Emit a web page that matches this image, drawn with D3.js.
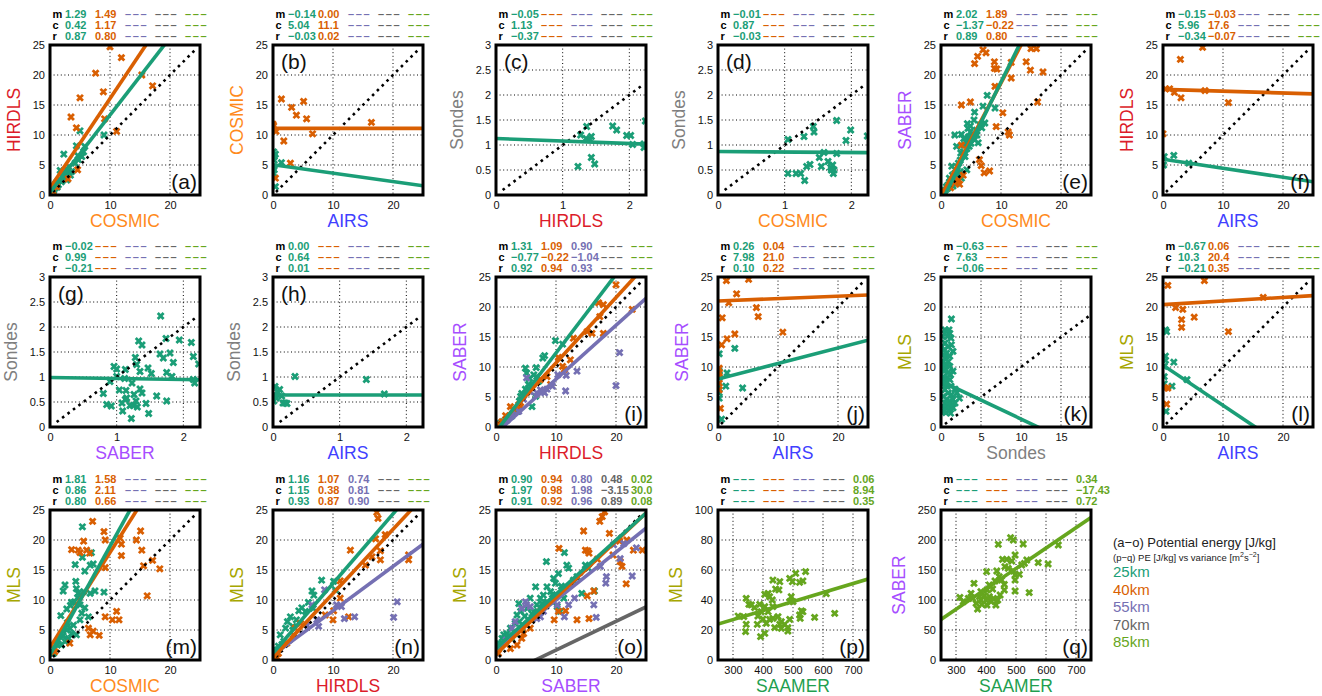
<!DOCTYPE html>
<html><head><meta charset="utf-8">
<script src="https://cdn.jsdelivr.net/npm/d3@7"></script>
<style>
body{margin:0;background:#fff;}
svg{display:block;font-family:"Liberation Sans",Arial,Helvetica,sans-serif;}
</style></head><body>
<svg id="chart" width="1322" height="696"></svg>
<script>
// ---------- series / instruments ----------
const seriesNames = ["25km","40km","55km","70km","85km"];
const seriesColors = ["#1b9e77","#d95f02","#7570b3","#666666","#66a61e"];
const instColors = {COSMIC:"#ff8a1c", HIRDLS:"#dc1c2a", AIRS:"#4040ff", Sondes:"#7f7f7f", SABER:"#a64dff", MLS:"#a6a600", SAAMER:"#1f9f50"};

// ---------- tick labels ----------
const ticksPEx = [0,10,20], ticksPEy = [0,5,10,15,20,25];
const ticksSx = [0,1,2], ticksSy = [0,0.5,1,1.5,2,2.5,3];
const ticksKx = [0,5,10,15];
const ticksVx = [300,400,500,600,700];
const ticksVMy = [0,20,40,60,80,100];
const ticksVSy = [0,50,100,150,200,250];

// ---------- fit statistics (rows m, c, r; columns 25,40,55,70,85 km) ----------
const statsA = [["1.29","1.49","","",""],["0.42","1.17","","",""],["0.87","0.80","","",""]];
const statsB = [["-0.14","0.00","","",""],["5.04","11.1","","",""],["-0.03","0.02","","",""]];
const statsC = [["-0.05","","","",""],["1.13","","","",""],["-0.37","","","",""]];
const statsD = [["-0.01","","","",""],["0.87","","","",""],["-0.03","","","",""]];
const statsE = [["2.02","1.89","","",""],["-1.37","-0.22","","",""],["0.89","0.80","","",""]];
const statsF = [["-0.15","-0.03","","",""],["5.96","17.6","","",""],["-0.34","-0.07","","",""]];
const statsG = [["-0.02","","","",""],["0.99","","","",""],["-0.21","","","",""]];
const statsH = [["0.00","","","",""],["0.64","","","",""],["0.01","","","",""]];
const statsI = [["1.31","1.09","0.90","",""],["-0.77","-0.22","-1.04","",""],["0.92","0.94","0.93","",""]];
const statsJ = [["0.26","0.04","","",""],["7.98","21.0","","",""],["0.10","0.22","","",""]];
const statsK = [["-0.63","","","",""],["7.63","","","",""],["-0.06","","","",""]];
const statsL = [["-0.67","0.06","","",""],["10.3","20.4","","",""],["-0.21","0.35","","",""]];
const statsM = [["1.81","1.58","","",""],["0.86","2.11","","",""],["0.80","0.66","","",""]];
const statsN = [["1.16","1.07","0.74","",""],["1.15","0.38","0.81","",""],["0.93","0.87","0.90","",""]];
const statsO = [["0.90","0.94","0.80","0.48","0.02"],["1.97","0.98","1.98","-3.15","30.0"],["0.91","0.92","0.96","0.89","0.08"]];
const statsP = [["","","","","0.06"],["","","","","8.94"],["","","","","0.35"]];
const statsQ = [["","","","","0.34"],["","","","","-17.43"],["","","","","0.72"]];

// ---------- scatter points [x, y] ----------
const a25 = [[2.3,6.8],[5,10.7],[9,10],[4.4,8.2],[5.8,8.1],[4.7,6.5],[3.1,4.7],[1.7,4.1],[2.5,3.1],[3.6,3.9],[4.2,5.3],[5.3,6.4],[0.8,1.1],[1.4,1.7],[1.9,2.2],[0.6,0.7],[2.8,2.5],[3.4,3.3],[1.1,2.1],[5.6,7.2],[4.7,5.9],[2.1,3.6],[1.2,1.3],[1.6,2.6],[2.4,2.9],[3,3.6],[0.9,1.8],[2.7,4.3]];
const a40 = [[10,24.7],[11.9,22.9],[7.6,20.3],[15.3,20],[8.9,17.2],[17.1,18.2],[5,16.2],[3.5,13],[4.4,11.2],[11.1,10.6],[9.1,12.7],[4.6,4.2],[3,2.7],[0.5,0.6],[1.1,1.4]];
const b25 = [[0.1,7.2],[0.2,5.8],[0.1,4.7],[0.2,4.2],[0.4,6.8],[1.4,5.4],[0.4,1.4],[0.1,3.6],[0.2,6.4]];
const b40 = [[0,11.8],[0.5,10.6],[1.4,16],[1.8,9],[3.1,14.6],[3.9,13.3],[5.1,15.6],[5.6,12.7],[6.6,10.2],[16.4,12.1],[0.4,2.8],[2.9,5.3],[0.1,11.5]];
const c25 = [[1.27,1.2],[1.36,1.37],[1.35,1.13],[1.43,1.17],[1.41,1.11],[1.23,0.57],[1.43,0.75],[1.48,0.62],[1.75,1.38],[1.81,1.3],[1.96,1.19],[2.02,1.19],[2.05,1.01],[2.22,0.95],[2.24,1.48],[2.22,1.02]];
const d25 = [[1.05,1.11],[1.29,1.17],[1.43,1.37],[1.44,1.26],[1.78,1.49],[1.99,1.3],[1.92,1.09],[2.24,1.18],[1.05,0.43],[1.17,0.43],[1.24,0.43],[1.3,0.29],[1.33,0.57],[1.38,0.61],[1.52,0.75],[1.55,0.57],[1.59,0.85],[1.65,0.67],[1.69,0.55],[1.72,0.6],[1.73,0.43],[1.74,0.5],[1.78,0.83],[1.7,0.5]];
const e25 = [[7.7,16.6],[9,14.5],[5.6,13.8],[7,14.8],[2.3,10],[3.4,10.1],[4.4,11.9],[4.5,11.1],[5.5,12.5],[6.5,11.7],[7.3,12],[2.6,8.1],[3.7,7.2],[4.8,9.2],[5.6,9.2],[6.2,8.7],[4.7,8.1],[1.8,4.8],[2.7,4.7],[3.2,5.8],[4,6.4],[3.2,3.9],[4.3,4.2],[1.5,2.2],[2.1,2.8],[0.9,1.4],[0.7,0.8],[1.2,1.7],[2.6,1.9],[3.4,2.8],[2.3,3.6],[5.3,10.2],[4.9,10.5],[4.1,8.9],[3.3,7],[4.3,7.7],[5.9,10.8],[4.6,9.7],[5,8.6],[5.2,9.6],[3.9,8.3],[3.6,6.5],[2.9,5.3],[2.4,4.2],[1.9,3.3],[1.4,2.8],[1.1,1.1],[2.8,2.3],[2,1.5],[3,3.2],[6.8,11.2],[6,10],[4.9,11.5],[3.8,9.4]];
const e40 = [[7,24.2],[7.5,23.7],[6.1,23.1],[5.6,21.9],[8.9,22.2],[8.9,21.1],[9.3,21],[11.7,22.1],[14.2,22.2],[15,24.4],[15.9,24.4],[14.9,20.8],[17,20.5],[11.7,19.5],[9,18.1],[4.9,15.5],[3.4,15],[16.1,15.5],[10.3,13.7],[9.2,11.4],[11.2,10.5],[11.4,10],[6.4,5.9],[6.7,4.9],[7.2,3.7],[8.1,4],[3.4,8.3],[3.7,3.3],[0.4,0.6],[2.2,2.1],[2.9,2.5],[1.6,1.2],[3.1,1.8]];
const f25 = [[0.2,6.4],[0.1,5],[1.8,6.6],[4.3,5.3]];
const f40 = [[0,10.2],[0.4,17.7],[1.1,17.7],[1.9,17.1],[3,16.2],[2.9,22.6],[6.6,24.6],[7,17.4],[10.9,15.4]];
const g25 = [[1.66,2.22],[1.33,1.72],[1.38,1.64],[1.74,1.77],[1.94,1.74],[2.12,1.69],[1.65,1.46],[1.7,1.38],[1.8,1.48],[1.85,1.29],[2.15,1.41],[2.23,1.26],[1.28,1.39],[1.3,1.25],[0.96,1.21],[1,1.16],[1.13,1.15],[1.35,1.11],[1.47,1.18],[1.52,1.07],[1.75,1.09],[1.83,1.01],[2.15,0.95],[2.17,0.88],[0.9,0.91],[1.12,0.97],[1.14,0.73],[1.23,0.88],[1.35,0.76],[1.38,0.68],[0.8,0.67],[0.85,0.45],[0.92,0.42],[1.04,0.74],[1.08,0.48],[1.09,0.32],[1.13,0.55],[1.15,0.58],[1.2,0.43],[1.25,0.43],[1.29,0.52],[1.31,0.4],[1.44,0.47],[1.48,0.27],[1.6,0.62],[1.75,0.52],[1.22,0.17],[1.26,0.65],[1,1.01]];
const h25 = [[0.33,1.01],[1.4,0.95],[1.67,0.66],[0.03,0.81],[0.02,0.65],[0.01,0.52],[0.05,0.58],[0.1,0.75],[0.13,0.62],[0.15,0.48],[0.18,0.48],[0.21,0.47],[0.07,0.7],[0,0.6]];
const i25 = [[9.9,14.4],[11.1,13.8],[7.8,11.5],[8.1,11.9],[4.9,9.8],[6.7,9.9],[5.1,9],[6.3,8.7],[6.8,8.4],[5.6,8.1],[7.1,7.6],[6.6,5.1],[6,3.4],[3.9,4.3],[3.6,2.6],[2.6,1.8],[1.8,1.2],[1.3,0.9],[0.7,0.6],[4.1,5.1],[4.9,6.3],[5.4,7.1],[4.3,5.6],[2.9,2.9]];
const i40 = [[20,23.7],[22.7,19.6],[17.1,20.7],[17.9,20.4],[17.3,18.4],[15.2,15.9],[16,15.6],[17.9,15.6],[12.9,14.8],[12.4,11.2],[11.1,10.1],[11.4,9.6],[9.1,7.1],[2.4,3.4],[2.8,2.9],[4.1,3.4],[3.8,3.7],[1.6,1.9],[1,0.9],[0.7,0.4],[10.4,11.6],[8.5,8.4],[7.4,7.9]];
const i55 = [[20.6,12.4],[20,6.9],[13.5,9.3],[11.7,8.6],[11.6,6],[10.3,8.7],[9.4,6.8],[8.1,5.7],[7.4,6.2],[6.8,5.7],[5.1,8.2],[5.7,5.9],[4.6,4.6],[3.8,2.6],[2.7,2.1],[1.8,1.1],[1.3,0.4],[8.5,6.3]];
const j25 = [[0.2,12.2],[2.8,13.1],[0.2,8.7],[0.1,6.8],[0.2,4.8],[0.2,5.7],[1.5,9],[1.3,6.8],[4.1,6.5],[0.6,1.3],[0.2,9.3],[0.2,8.2]];
const j40 = [[1.4,24.4],[5.1,24.6],[3.1,22.2],[1.8,20.7],[0.7,18.2],[6.4,19.9],[6.7,18.4],[1.5,14.7],[2.8,15.5],[10.8,15.8],[0.6,13.7],[0.2,9.8],[0.2,9],[0.4,3.1],[0.2,6.2],[0.2,7.3],[0.1,8.6]];
const k25 = [[0.2,15.1],[0.5,16.2],[0.7,15.9],[1,16.2],[1.1,15.6],[0.8,15.1],[1.3,18],[1.25,14.8],[1.5,12.6],[1.3,13.7],[0.5,14],[0.9,13.4],[0.4,12.9],[0.7,12.3],[1.1,11.8],[0.5,11.5],[0.3,10.9],[0.9,10.9],[0.7,10.4],[1.1,10.1],[1.5,9.3],[0.5,9.6],[0.9,9.1],[0.3,8.4],[0.7,8.2],[1.1,7.9],[0.5,7.6],[0.2,7.1],[0.7,6.9],[1.25,6.8],[1.75,6.3],[2.3,4.8],[2,5.7],[0.5,6.2],[0.9,5.7],[1.3,5.4],[0.3,5.1],[0.7,4.6],[1.1,4.3],[1.5,4.6],[0.5,4],[0.9,3.7],[1.3,3.6],[0.2,3.4],[0.7,3.2],[1.1,2.9],[0.3,2.6],[1.5,3.2],[1.75,4],[0.6,2.4],[1.2,2.3],[0.4,9.3],[1.2,8.7],[0.1,10.1],[0.1,13.4],[0.3,12.1]];
const l25 = [[0.4,16.2],[0.4,11.8],[0.4,11.1],[0.2,10.1],[1.8,10.8],[0.2,8.4],[0.2,7.2],[1.5,6.8],[4,7.9],[0.5,2.6],[0.6,15.9]];
const l40 = [[0.8,23.6],[6.9,24.4],[16.7,21.6],[2.1,19.9],[3.3,19.6],[3.1,17.9],[3.1,16.6],[5.2,18.3],[10.9,15.9],[0.3,6.5],[0.8,6.5],[0.6,3.8]];
const m25 = [[5.4,22.2],[6.9,17.9],[5.4,17.1],[4.2,15.9],[5.8,14.8],[6.7,15.8],[7.2,16],[4.3,13.1],[2.5,12.5],[2.2,11.5],[4.4,11.9],[4.7,11.1],[5.6,11.4],[7.5,11.5],[6.7,11.1],[9,11.3],[3.6,9.6],[4.1,9.7],[5,9.2],[2.8,8.5],[5.8,8.7],[1.8,7.4],[5.3,7.8],[6.4,7.2],[5,6.7],[3.3,5.3],[2.8,5],[1.9,4.4],[3.6,4.4],[4.4,4.2],[1.4,3.3],[2.5,3.1],[0.8,1.9],[0.6,1.1],[1.9,2.5],[3.1,3.6],[3.9,5.8],[3.4,9.1],[4.6,10.4],[2.2,4],[1.2,2.6],[2.9,6.2]];
const m40 = [[7.1,23.1],[5.6,19.8],[3.6,18.4],[4.7,18.3],[5,17.9],[6.1,18.3],[6.6,17.8],[9,21.4],[9.2,20],[11.7,20.3],[11.9,19.3],[15.1,21.5],[14.4,20],[15.3,18.3],[11.9,17.4],[15.6,15.7],[17.1,16.6],[18.3,15.2],[9.2,15.4],[16.2,10.7],[11.1,8.1],[10.4,6.7],[11.5,6.7],[9.2,7.2],[6.4,5.3],[6.7,4.2],[7.2,4.8],[8.2,4.1],[3.3,2.8],[0.8,1.4]];
const n25 = [[8.1,13.3],[6.5,11.5],[6.8,10.8],[10.1,13.1],[10.4,11.7],[4.8,8.7],[4.3,8.2],[5.4,8.1],[6.7,8.6],[2.9,7.2],[2.1,5.3],[2.4,6.4],[1.2,4.2],[1.8,3.1],[0.7,1.7],[0.9,2.3],[3.9,6.7],[1.5,2.6],[3.3,5.6],[5.9,9.6]];
const n40 = [[17.3,24.6],[17.5,23.6],[17.1,20.2],[18.7,20.9],[12.9,18.3],[16.5,17.2],[17.9,18.2],[17.9,16.7],[22.6,17.5],[22.6,16.7],[15.4,15.8],[11.2,13.2],[11.2,10.3],[10.1,8.2],[10,6.7],[8.7,7.5],[12.6,7.2],[4.6,6.1],[3.4,4.2],[2.3,2.8],[0.9,1.1],[0.7,0.4],[3.7,5.3]];
const n55 = [[20.7,9.7],[20.1,7.1],[13.6,7.2],[11.9,6.9],[11.4,8.9],[10.6,9.2],[8.6,11.7],[7.3,6.7],[7.6,5.6],[6.5,9.2],[5.7,5.8]];
const o25 = [[8.4,16.4],[11.4,17.9],[11.8,15.8],[12.1,15.3],[10.4,14.4],[14.9,15.8],[15.4,15.3],[16.4,11.5],[14.3,11.1],[11.3,10.3],[6.6,12.2],[8.5,12.2],[9.6,13.6],[9.9,12.8],[7.4,10.3],[7.9,10.8],[5.7,10.3],[3.8,9.4],[9.1,11.4],[12.7,12.8],[13.5,13.9],[12.9,13.3],[5.2,8.6],[4.1,8.1],[3.2,6.1],[2.4,5.3],[1.8,4.4],[1,3.6],[0.4,2.8],[0.7,2.2],[10.2,8.9],[10.7,8.1],[6.3,8.1],[3.2,4.4],[4.3,5.3],[5.4,6.7],[6.8,9.2],[7.7,9.4],[8.5,9.7],[3.5,7.5],[1.3,4.2],[2.6,3.6],[1.6,3],[2.1,4],[0.9,2.6],[3.9,6.4],[4.8,7.3],[6,7.7],[9.4,10.9],[10.9,12.3]];
const o40 = [[18.1,24.7],[17.7,23.9],[17.3,23.1],[14.6,21.5],[18.9,21.1],[10.5,18.6],[14.9,18.3],[15.3,18.2],[15.5,17.8],[16.9,16.8],[20.6,19.8],[21.8,20],[22.9,18.3],[24.4,18.3],[20.7,16.4],[21,15.6],[19.5,17.5],[21.7,12.7],[15.2,10.7],[16.3,11.5],[13.5,6.7],[15.5,6.9],[9.7,6.7],[10.4,8.1],[11.6,8.2],[7.4,8.1],[4.3,3.6],[3.5,2.5],[2.4,1.9],[0.4,1.1],[4.6,4.4],[5.7,5.3]];
const o55 = [[18.4,13.9],[18.3,12.8],[22.7,14],[23.4,18.7],[16.3,9.2],[16.7,7.1],[17.4,15.6],[13.1,10.3],[12.1,9.2],[10.2,9.2],[11.4,7.2],[7.9,8.1],[7.4,7.2],[4.9,9.7],[5.1,9.2],[5.7,8.9],[4.3,8.6],[6.8,6.9],[3.2,6.4],[2.7,5.3],[1.7,3.3],[19.6,19.2],[21.3,19.4],[20.7,16.9]];
const p85 = [[509,57.8],[542,58.9],[489,54.4],[498,52.2],[522,51.8],[533,52.7],[433,53.3],[456,52.2],[442,47.3],[453,46.7],[417,44.4],[406,43.8],[422,42.2],[431,40],[494,42.2],[489,38.9],[500,38.9],[528,32.7],[533,32.2],[522,30],[524,27.8],[572,28.4],[639,31.1],[611,44.2],[344,41.1],[353,37.1],[336,28.9],[317,29.3],[344,23.8],[342,18.9],[389,37.1],[394,32.2],[383,29.3],[400,27.3],[411,24.4],[422,27.1],[392,15.6],[406,17.8],[450,28.9],[461,25.6],[472,23.8],[483,21.6],[483,19.3],[489,27.1],[456,23.8],[433,27.8],[417,32.2],[433,35.6],[372,34.9],[361,36.7],[406,35.6],[381,23.8],[439,21.6],[461,21.1]];
const q85 = [[482,203.9],[491,200],[441,192.8],[524,193.3],[641,191.7],[574,162.2],[607,160],[497,175],[455,167.8],[469,167.8],[486,165],[536,166.7],[528,161.1],[519,158.3],[463,155.6],[474,152.8],[436,148.3],[402,147.2],[491,148.3],[497,141.7],[511,142.8],[444,138.9],[452,133.3],[461,126.1],[430,131.7],[497,133.3],[360,127.8],[411,125],[422,118.3],[403,116.7],[497,115],[544,112.2],[461,116.7],[313,104.4],[350,111.1],[383,113.9],[394,107.2],[411,105.6],[425,102.8],[439,100],[383,100],[367,94.4],[372,85],[386,92.8],[403,91.7],[417,97.2],[341,102.8],[324,97.2],[433,91.7],[400,100],[378,105.6],[447,108.3],[356,102.8]];

// ---------- layout ----------
const colLeft = [50,273,496,718,941,1163];
const rowTop = [45,277,510];
const W = 150, H = 150;

const types = {
  pe:   {xd:[0,25],    yd:[0,25],  xt:ticksPEx, yt:ticksPEy, gx:[10,20], gy:[5,10,15,20], diag:[0.5,24.5]},
  snd:  {xd:[0,2.25],  yd:[0,3],   xt:ticksSx,  yt:ticksSy,  gx:[1,2], gy:[0.5,1,1.5,2,2.5], diag:[0.1,2.2]},
  sndx: {xd:[0,18.75], yd:[0,25],  xt:ticksKx,  yt:ticksPEy, gx:[5,10,15], gy:[5,10,15,20], diag:[0.5,18.5]},
  varM: {xd:[250,750], yd:[0,100], xt:ticksVx,  yt:ticksVMy, gx:ticksVx, gy:[20,40,60,80], diag:null},
  varS: {xd:[250,750], yd:[0,250], xt:ticksVx,  yt:ticksVSy, gx:ticksVx, gy:[50,100,150,200], diag:null}
};

const panels = [
  {id:"a", col:0,row:0, x:"COSMIC", y:"HIRDLS", type:"pe",  pts:[a25,a40], stats:statsA, lp:"br"},
  {id:"b", col:1,row:0, x:"AIRS",   y:"COSMIC", type:"pe",  pts:[b25,b40], stats:statsB, lp:"tl"},
  {id:"c", col:2,row:0, x:"HIRDLS", y:"Sondes", type:"snd", pts:[c25], stats:statsC, lp:"tl"},
  {id:"d", col:3,row:0, x:"COSMIC", y:"Sondes", type:"snd", pts:[d25], stats:statsD, lp:"tl"},
  {id:"e", col:4,row:0, x:"COSMIC", y:"SABER",  type:"pe",  pts:[e25,e40], stats:statsE, lp:"br"},
  {id:"f", col:5,row:0, x:"AIRS",   y:"HIRDLS", type:"pe",  pts:[f25,f40], stats:statsF, lp:"br"},
  {id:"g", col:0,row:1, x:"SABER",  y:"Sondes", type:"snd", pts:[g25], stats:statsG, lp:"tl"},
  {id:"h", col:1,row:1, x:"AIRS",   y:"Sondes", type:"snd", pts:[h25], stats:statsH, lp:"tl"},
  {id:"i", col:2,row:1, x:"HIRDLS", y:"SABER",  type:"pe",  pts:[i25,i40,i55], stats:statsI, lp:"br"},
  {id:"j", col:3,row:1, x:"AIRS",   y:"SABER",  type:"pe",  pts:[j25,j40], stats:statsJ, lp:"br"},
  {id:"k", col:4,row:1, x:"Sondes", y:"MLS",    type:"sndx",pts:[k25], stats:statsK, lp:"br"},
  {id:"l", col:5,row:1, x:"AIRS",   y:"MLS",    type:"pe",  pts:[l25,l40], stats:statsL, lp:"br"},
  {id:"m", col:0,row:2, x:"COSMIC", y:"MLS",    type:"pe",  pts:[m25,m40], stats:statsM, lp:"br"},
  {id:"n", col:1,row:2, x:"HIRDLS", y:"MLS",    type:"pe",  pts:[n25,n40,n55], stats:statsN, lp:"br"},
  {id:"o", col:2,row:2, x:"SABER",  y:"MLS",    type:"pe",  pts:[o25,o40,o55], stats:statsO, lp:"br"},
  {id:"p", col:3,row:2, x:"SAAMER", y:"MLS",    type:"varM",pts:[null,null,null,null,p85], stats:statsP, lp:"br"},
  {id:"q", col:4,row:2, x:"SAAMER", y:"SABER",  type:"varS",pts:[null,null,null,null,q85], stats:statsQ, lp:"br"}
];

const FONT = '"Liberation Sans",Arial,Helvetica,sans-serif';
const svg = d3.select("#chart");
const fmt = d3.format("~g");
const minus = s => s.replace(/-/g, "\u2212");
const cross = d3.symbol().type(d3.symbolX).size(24);

panels.forEach(p => {
  const t = types[p.type];
  const bx = colLeft[p.col], by = rowTop[p.row];
  const g = svg.append("g").attr("transform", `translate(${bx},${by})`);
  const xs = d3.scaleLinear().domain(t.xd).range([0, W]);
  const ys = d3.scaleLinear().domain(t.yd).range([H, 0]);
  const cid = "clip-" + p.id;
  g.append("clipPath").attr("id", cid).append("rect").attr("x",0).attr("y",0).attr("width", W).attr("height", H);

  // grid
  const grid = g.append("g").attr("stroke", "#000").attr("stroke-width", 1).attr("stroke-dasharray", "1,2.6");
  grid.selectAll("line.gx").data(t.gx).join("line").attr("class","gx")
    .attr("x1", d => xs(d)).attr("x2", d => xs(d)).attr("y1", 0).attr("y2", H);
  grid.selectAll("line.gy").data(t.gy).join("line").attr("class","gy")
    .attr("y1", d => ys(d)).attr("y2", d => ys(d)).attr("x1", 0).attr("x2", W);

  // axes
  const xa = g.append("g").attr("transform", `translate(0,${H})`)
    .call(d3.axisBottom(xs).tickValues(t.xt).tickSize(0).tickPadding(6).tickFormat(fmt));
  const ya = g.append("g")
    .call(d3.axisLeft(ys).tickValues(t.yt).tickSize(0).tickPadding(5).tickFormat(fmt));
  [xa, ya].forEach(a => {
    a.select(".domain").remove();
    a.attr("font-family", FONT).attr("font-size", 11);
    a.selectAll("text").attr("fill", "#111");
  });

  // points
  const pg = g.append("g").attr("clip-path", `url(#${cid})`);
  p.pts.forEach((arr, i) => {
    if (!arr) return;
    pg.append("g").selectAll("path").data(arr).join("path")
      .attr("d", cross)
      .attr("transform", d => `translate(${xs(d[0])},${ys(d[1])})`)
      .attr("fill", "none").attr("stroke", seriesColors[i]).attr("stroke-width", 2.8);
  });

  // 1:1 line
  if (t.diag) {
    g.append("line")
      .attr("x1", xs(t.diag[0])).attr("y1", ys(t.diag[0]))
      .attr("x2", xs(t.diag[1])).attr("y2", ys(t.diag[1]))
      .attr("stroke", "#000").attr("stroke-width", 2.6).attr("stroke-dasharray", "2.6,4.2");
  }

  // regression lines (drawn in reverse so 25km sits on top)
  const lg = g.append("g").attr("clip-path", `url(#${cid})`);
  for (let i = 4; i >= 0; i--) {
    const ms = p.stats[0][i], cs = p.stats[1][i];
    if (ms === "" || cs === "") continue;
    const m = parseFloat(ms), c = parseFloat(cs);
    const line = d3.line().x(d => xs(d)).y(d => ys(m * d + c));
    lg.append("path").datum(t.xd).attr("d", line)
      .attr("fill", "none").attr("stroke", seriesColors[i]).attr("stroke-width", 3.6);
  }

  // box
  g.append("rect").attr("x", 0).attr("y", 0).attr("width", W).attr("height", H)
    .attr("fill", "none").attr("stroke", "#000").attr("stroke-width", 3);

  // panel letter
  const lt = g.append("text").attr("font-family", FONT).attr("font-size", 21).attr("fill", "#111")
    .text(`(${p.id})`);
  if (p.lp === "br") lt.attr("x", W - 3).attr("y", H - 6).attr("text-anchor", "end");
  else lt.attr("x", 8).attr("y", 24);

  // stats
  const rowsLab = ["m", "c", "r"];
  const rowY = [-27.5, -16.5, -5.5];
  rowsLab.forEach((lab, ri) => {
    g.append("text").attr("x", 2.5).attr("y", rowY[ri]).attr("font-family", FONT)
      .attr("font-size", 11).attr("font-weight", "bold").attr("fill", "#000").text(lab);
    p.stats[ri].forEach((v, ci) => {
      const tx = g.append("text").attr("x", 15 + 30 * ci).attr("y", rowY[ri]).attr("font-family", FONT)
        .attr("font-size", 11).attr("font-weight", "bold").attr("fill", seriesColors[ci]);
      if (v === "") tx.attr("letter-spacing", 1.6).text("\u2013\u2013\u2013");
      else tx.text(minus(v));
    });
  });

  // axis labels
  g.append("text").attr("x", W / 2).attr("y", H + 32).attr("text-anchor", "middle")
    .attr("font-family", FONT).attr("font-size", 17.5).attr("fill", instColors[p.x]).text(p.x);
  const yw = ya.node().getBBox().width;
  g.append("text").attr("transform", `translate(${-yw - 19},${H / 2}) rotate(-90)`)
    .attr("text-anchor", "middle").attr("dominant-baseline", "central")
    .attr("font-family", FONT).attr("font-size", 17.5).attr("fill", instColors[p.y]).text(p.y);
});

// legend
const leg = svg.append("g").attr("font-family", FONT);
leg.append("text").attr("x", 1113).attr("y", 547).attr("font-size", 13).attr("fill", "#222")
  .text("(a\u2212o) Potential energy [J/kg]");
const t2 = leg.append("text").attr("x", 1113).attr("y", 561).attr("font-size", 9.5).attr("fill", "#222");
t2.append("tspan").text("(p\u2212q) PE [J/kg] vs variance [m");
t2.append("tspan").attr("font-size", 7).attr("dy", -4).text("2");
t2.append("tspan").attr("dy", 4).text("s");
t2.append("tspan").attr("font-size", 7).attr("dy", -4).text("\u22122");
t2.append("tspan").attr("dy", 4).text("]");
seriesNames.forEach((n, i) => {
  leg.append("text").attr("x", 1113).attr("y", 577 + i * 17.6).attr("font-size", 15)
    .attr("fill", seriesColors[i]).text(n);
});
</script>
</body></html>
